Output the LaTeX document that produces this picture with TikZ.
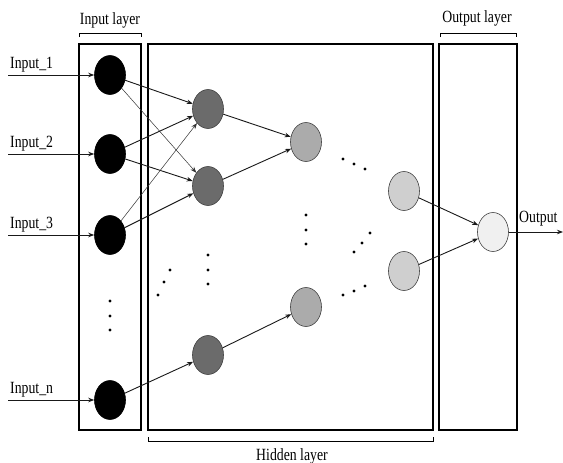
\documentclass[tikz,border=0pt]{standalone}
\usepackage{fontspec}
\setmainfont{Liberation Serif}
\usetikzlibrary{arrows.meta,shapes.geometric}
\newcommand{\tallt}[1]{\scalebox{0.95}[1.18]{#1}}
\begin{document}
\begin{tikzpicture}[x=1pt,y=-1pt,
  neuron/.style={ellipse,draw=black!75,line width=0.6pt,minimum width=31pt,minimum height=39pt,inner sep=0pt},
  inn/.style={neuron,fill=black,draw=black},
  hidA/.style={neuron,fill=black!58},
  hidB/.style={neuron,fill=black!33},
  hidC/.style={neuron,fill=black!19},
  outn/.style={neuron,fill=black!6},
  layerbox/.style={draw=black,line width=1.6pt},
  bracket/.style={draw=black,line width=1pt},
  conn/.style={-{Stealth[length=6pt,width=4.5pt]},line width=0.9pt,black!90},
  thinconn/.style={-{Stealth[length=6pt,width=4.5pt]},line width=0.5pt,black!80},
  lbl/.style={font=\fontsize{14.5}{16}\selectfont,inner sep=0pt},
  dotm/.style={circle,fill=black,inner sep=0pt,minimum size=3.2pt}
]
\useasboundingbox (0,0) rectangle (563,463);
\fill[white] (0,0) rectangle (563,463);
% layer boxes
\draw[layerbox] (79,44) rectangle (141,430);
\draw[layerbox] (148,44) rectangle (433,430);
\draw[layerbox] (439,44) rectangle (517,430);
% brackets
\draw[bracket] (79,37) -- (79,33) -- (141,33) -- (141,37);
\draw[bracket] (440,37) -- (440,33) -- (516,33) -- (516,37);
\draw[bracket] (148,437) -- (148,441) -- (433,441) -- (433,437);
\node[lbl,anchor=base] (tin) at (110,24) {\tallt{Input layer}};
\node[lbl,anchor=base] (tout) at (477,22) {\tallt{Output layer}};
\node[lbl,anchor=base] (thid) at (292,460) {\tallt{Hidden layer}};
% input neurons
\node[inn] (i1) at (110,75) {};
\node[inn] (i2) at (110,154) {};
\node[inn] (i3) at (110,235) {};
\node[inn] (in) at (110,400) {};
% hidden layer 1
\node[hidA] (a1) at (208,109) {};
\node[hidA] (a2) at (208,186) {};
\node[hidA] (a3) at (208,355) {};
% hidden layer 2
\node[hidB] (b1) at (306,142) {};
\node[hidB] (b2) at (306,307) {};
% hidden layer 3
\node[hidC] (c1) at (404,191) {};
\node[hidC] (c2) at (404,271) {};
% output
\node[outn] (o) at (493,232) {};
% input arrows
\coordinate (s1) at (8,75);
\coordinate (s2) at (8,154);
\coordinate (s3) at (8,235);
\coordinate (sn) at (8,400);
\draw[conn] (s1) -- (i1);
\draw[conn] (s2) -- (i2);
\draw[conn] (s3) -- (i3);
\draw[conn] (sn) -- (in);
\node[lbl,anchor=base west] (l1) at (10,68) {\tallt{Input\_1}};
\node[lbl,anchor=base west] (l2) at (10,147) {\tallt{Input\_2}};
\node[lbl,anchor=base west] (l3) at (10,228) {\tallt{Input\_3}};
\node[lbl,anchor=base west] (ln) at (10,393) {\tallt{Input\_n}};
% output arrow
\coordinate (e) at (563,232);
\draw[conn] (o) -- (e);
\node[lbl,anchor=base west] (lo) at (519,222) {\tallt{Output}};
% connections
\draw[conn] (i1) -- (a1);
\draw[thinconn] (i1) -- (a2);
\draw[conn] (i2) -- (a1);
\draw[conn] (i2) -- (a2);
\draw[thinconn] (i3) -- (a1);
\draw[conn] (i3) -- (a2);
\draw[conn] (in) -- (a3);
\draw[conn] (a1) -- (b1);
\draw[conn] (a2) -- (b1);
\draw[conn] (a3) -- (b2);
\draw[conn] (c1) -- (o);
\draw[conn] (c2) -- (o);
% dots
\foreach \n/\p in {d1/{(110,301)},d2/{(110,316)},d3/{(110,330)},
  d4/{(208,255)},d5/{(208,270)},d6/{(208,284)},
  d7/{(158,295)},d8/{(164,282)},d9/{(170,270)},
  d10/{(306,215)},d11/{(306,230)},d12/{(306,244)},
  d13/{(343,159)},d14/{(354,164)},d15/{(365,169)},
  d16/{(343,295)},d17/{(354,291)},d18/{(365,286)},
  d19/{(354,252)},d20/{(362,243)},d21/{(370,233)}}
  \node[dotm] (\n) at \p {};
\end{tikzpicture}
\end{document}
